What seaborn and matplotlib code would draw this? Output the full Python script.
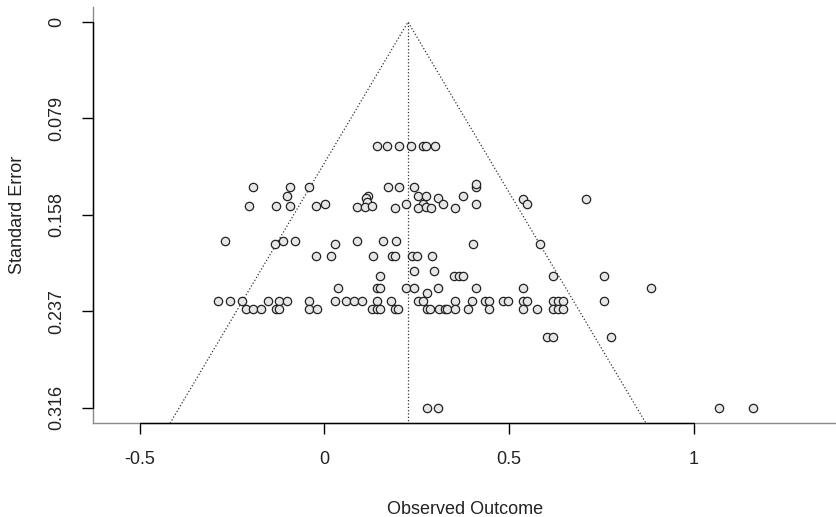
import matplotlib
matplotlib.use("Agg")
import matplotlib.pyplot as plt
import pandas as pd
import seaborn as sns

# observed outcomes and their standard errors
# (grouped roughly by standard error level, top to bottom)
effects = [
    0.141, 0.170, 0.202, 0.234, 0.266, 0.275, 0.299,
    -0.193, -0.093, -0.041, 0.171, 0.202, 0.243, 0.410, 0.410,
    -0.102, 0.119, 0.254, 0.276, 0.375,
    0.112, 0.307, 0.536, 0.708,
    0.001, 0.221, 0.267, 0.320, 0.410, 0.549, 0.114,
    -0.204, -0.131, -0.093, -0.023, 0.089, 0.110, 0.129, 0.191, 0.254,
    0.275, 0.287, 0.353,
    -0.269, -0.112, -0.080, 0.089, 0.159, 0.193,
    -0.134, 0.028, 0.403, 0.583,
    -0.023, 0.017, 0.130, 0.182, 0.191, 0.236, 0.250, 0.290,
    0.243, 0.297,
    0.150, 0.351, 0.365, 0.376, 0.618, 0.756,
    0.037, 0.141, 0.150, 0.221, 0.243, 0.308, 0.410, 0.536, 0.884,
    0.277,
    -0.287, -0.256, -0.224, -0.152, -0.122, -0.101, -0.042, 0.028, 0.057,
    0.080, 0.101, 0.141, 0.179, 0.254, 0.267, 0.353, 0.398, 0.434, 0.445,
    0.484, 0.497, 0.536, 0.548, 0.618, 0.632, 0.646, 0.756,
    -0.213, -0.193, -0.172, -0.131, -0.122, -0.042, -0.021, 0.128, 0.141,
    0.150, 0.191, 0.200, 0.277, 0.286, 0.310, 0.326, 0.332, 0.353, 0.388,
    0.445, 0.536, 0.574, 0.618, 0.632, 0.646,
    0.601, 0.618, 0.775,
    0.277, 0.307, 1.069, 1.159,
]
std_errors = [
    0.1015, 0.1015, 0.1015, 0.1015, 0.1015, 0.1015, 0.1015,
    0.1347, 0.1347, 0.1347, 0.1347, 0.1347, 0.1347, 0.1347, 0.1328,
    0.1422, 0.1422, 0.1422, 0.1422, 0.1422,
    0.1442, 0.1445, 0.1452, 0.1452,
    0.1490, 0.1490, 0.1490, 0.1490, 0.1490, 0.1490, 0.1471,
    0.1504, 0.1504, 0.1504, 0.1504, 0.1515, 0.1515, 0.1503, 0.1520, 0.1519,
    0.1511, 0.1523, 0.1519,
    0.1793, 0.1793, 0.1793, 0.1793, 0.1793, 0.1793,
    0.1822, 0.1822, 0.1822, 0.1822,
    0.1916, 0.1916, 0.1916, 0.1916, 0.1916, 0.1916, 0.1916, 0.1916,
    0.2036, 0.2036,
    0.2082, 0.2082, 0.2082, 0.2082, 0.2082, 0.2082,
    0.2180, 0.2180, 0.2180, 0.2180, 0.2180, 0.2180, 0.2180, 0.2180, 0.2180,
    0.2221,
    0.2284, 0.2284, 0.2284, 0.2284, 0.2284, 0.2284, 0.2284, 0.2284, 0.2284,
    0.2284, 0.2284, 0.2284, 0.2284, 0.2284, 0.2284, 0.2284, 0.2284, 0.2284,
    0.2284, 0.2284, 0.2284, 0.2284, 0.2284, 0.2284, 0.2284, 0.2284, 0.2284,
    0.2352, 0.2352, 0.2352, 0.2352, 0.2352, 0.2352, 0.2352, 0.2352, 0.2352,
    0.2352, 0.2352, 0.2352, 0.2352, 0.2352, 0.2352, 0.2352, 0.2352, 0.2352,
    0.2352, 0.2352, 0.2352, 0.2352, 0.2352, 0.2352, 0.2352,
    0.2576, 0.2576, 0.2576,
    0.3160, 0.3160, 0.3160, 0.3160,
]
pooled_estimate = 0.226
crit = 1.96

x_ticks = [-0.5, 0, 0.5, 1]
x_tick_labels = ["-0.5", "0", "0.5", "1"]
y_ticks = [0, 0.079, 0.158, 0.237, 0.316]
y_tick_labels = ["0", "0.079", "0.158", "0.237", "0.316"]

df = pd.DataFrame({"effect": effects, "se": std_errors})

sns.set_style("white")
plt.rcParams["font.family"] = ["Liberation Sans", "DejaVu Sans"]

fig = plt.figure(figsize=(8.37, 5.17), dpi=100)
ax = fig.add_axes([93 / 837, 1 - 423.3 / 517, 1 - 93 / 837, 416.7 / 517])

# R-style 4% padding around the standard error range
se_max = y_ticks[-1]
pad = 0.04 * se_max
ax.set_ylim(se_max + pad, -pad)
ax.set_xlim(-0.6265, 1.387)

# funnel: pooled estimate +/- 1.96 * se, drawn to the bottom of the region
se_bottom = se_max + pad
ax.plot([pooled_estimate - crit * se_bottom, pooled_estimate,
         pooled_estimate + crit * se_bottom],
        [se_bottom, 0, se_bottom], ls=":", color="#333333", lw=0.9)
ax.plot([pooled_estimate, pooled_estimate], [0, se_bottom],
        ls=":", color="#333333", lw=0.9)

sns.scatterplot(data=df, x="effect", y="se", ax=ax, s=36,
                color="#e6e6e6", edgecolor="#222222", linewidth=0.9,
                zorder=3)

for side in ["top", "right"]:
    ax.spines[side].set_visible(False)
for side in ["left", "bottom"]:
    ax.spines[side].set_color("#8a8a8a")
    ax.spines[side].set_linewidth(1.0)

# black axis lines spanning the tick range, like R's axis()
ax.plot([x_ticks[0], x_ticks[-1]], [se_bottom, se_bottom], color="black",
        lw=1.0, clip_on=False, zorder=4)
ax.plot([-0.6265, -0.6265], [y_ticks[0], y_ticks[-1]], color="black",
        lw=1.0, clip_on=False, zorder=4)

ax.set_xticks(x_ticks)
ax.set_xticklabels(x_tick_labels)
ax.set_yticks(y_ticks)
ax.set_yticklabels(y_tick_labels, rotation=90, va="center")
ax.tick_params(axis="both", which="both", direction="out", length=8,
               width=1.0, color="black", labelsize=13, pad=12,
               labelcolor="#222222", left=True, bottom=True)

ax.set_xlabel("Observed Outcome", fontsize=13, labelpad=24, color="#222222")
ax.set_ylabel("Standard Error", fontsize=13, labelpad=16, color="#222222")

fig.savefig("out.png", dpi=100)
